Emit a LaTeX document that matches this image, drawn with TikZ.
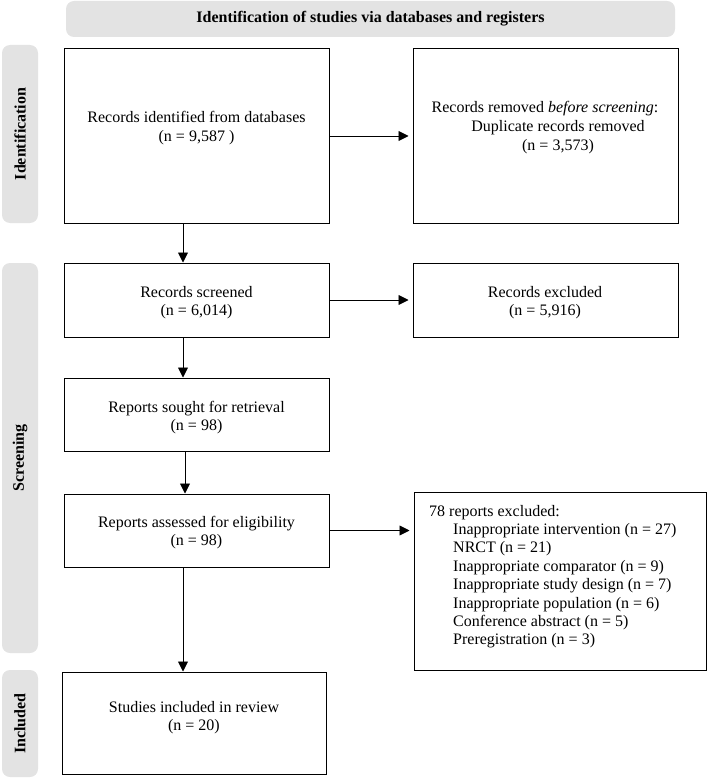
\documentclass[tikz,border=0pt]{standalone}
\usepackage{fontspec}
\setmainfont{Liberation Serif}
\usetikzlibrary{arrows.meta}
\definecolor{bandgray}{RGB}{227,227,227}
\begin{document}
\begin{tikzpicture}[x=1pt,y=-1pt,
  band/.style={fill=bandgray, rounded corners=8pt, inner sep=0pt,
    font=\fontsize{16}{18.4}\selectfont\bfseries},
  box/.style={draw=black, line width=1pt, fill=white, inner sep=0pt},
  txt/.style={inner sep=0pt, anchor=base, font=\fontsize{16}{18.4}\selectfont},
  arr/.style={draw=black, line width=0.9pt, -{Triangle[length=10pt,width=10pt]}}]
\useasboundingbox (0,0) rectangle (708,778);

% gray bands
\node[band, minimum width=609pt, minimum height=36pt] (hdr) at (370.5,19)
  {Identification of studies via databases and registers};
\node[band, minimum width=178pt, minimum height=36pt, rotate=90] (bId) at (20,134) {Identification};
\node[band, minimum width=390pt, minimum height=36pt, rotate=90] (bSc) at (20,458) {Screening};
\node[band, minimum width=107pt, minimum height=36pt, rotate=90] (bIn) at (20,723.5) {Included};

% boxes
\node[box, minimum width=265pt, minimum height=174pt] (A) at (196.5,136) {};
\node[box, minimum width=265pt, minimum height=174pt] (B) at (545.5,136) {};
\node[box, minimum width=265pt, minimum height=74pt] (C) at (196.5,300) {};
\node[box, minimum width=265pt, minimum height=74pt] (X1) at (545.5,300) {};
\node[box, minimum width=265pt, minimum height=73pt] (D) at (196.5,414.5) {};
\node[box, minimum width=265pt, minimum height=73pt] (E) at (196.5,530.5) {};
\node[box, minimum width=292pt, minimum height=178pt] (X2) at (560,581) {};
\node[box, minimum width=264pt, minimum height=102pt] (F) at (194,723) {};

% texts
\node[txt] (At) at (196.5,123) {\begin{tabular}[t]{@{}c@{}}Records identified from databases\\(n = 9,587 )\end{tabular}};
\node[txt] (Bt1) at (545,113) {Records removed \textit{before screening}:};
\node[txt] (Bt2) at (558,132) {\begin{tabular}[t]{@{}c@{}}Duplicate records removed\\(n = 3,573)\end{tabular}};
\node[txt] (Ct) at (196.5,297) {\begin{tabular}[t]{@{}c@{}}Records screened\\(n = 6,014)\end{tabular}};
\node[txt] (X1t) at (545,297) {\begin{tabular}[t]{@{}c@{}}Records excluded\\(n = 5,916)\end{tabular}};
\node[txt] (Dt) at (196.5,412) {\begin{tabular}[t]{@{}c@{}}Reports sought for retrieval\\(n = 98)\end{tabular}};
\node[txt] (Et) at (196.5,527) {\begin{tabular}[t]{@{}c@{}}Reports assessed for eligibility\\(n = 98)\end{tabular}};
\node[txt] (Ft) at (194,712) {\begin{tabular}[t]{@{}c@{}}Studies included in review\\(n = 20)\end{tabular}};
\node[txt, anchor=base west] (X2t) at (429,516) {\begin{tabular}[t]{@{}l@{}}78 reports excluded:\\
\hspace{24pt}Inappropriate intervention (n = 27)\\
\hspace{24pt}NRCT (n = 21)\\
\hspace{24pt}Inappropriate comparator (n = 9)\\
\hspace{24pt}Inappropriate study design (n = 7)\\
\hspace{24pt}Inappropriate population (n = 6)\\
\hspace{24pt}Conference abstract (n = 5)\\
\hspace{24pt}Preregistration (n = 3)\end{tabular}};

% connectors
\coordinate (sp) at (183,0);
\coordinate (sp2) at (185,0);
\draw[arr, shorten >=4pt] (A.east) -- (B.west);
\draw[arr] (A.south -| sp) -- (C.north -| sp);
\draw[arr, shorten >=4pt] (C.east) -- (X1.west);
\draw[arr] (C.south -| sp) -- (D.north -| sp);
\draw[arr] (D.south -| sp2) -- (E.north -| sp2);
\draw[arr, shorten >=4pt] (E.east) -- (E.east -| X2.west);
\draw[arr] (E.south -| sp) -- (F.north -| sp);
\end{tikzpicture}
\end{document}
